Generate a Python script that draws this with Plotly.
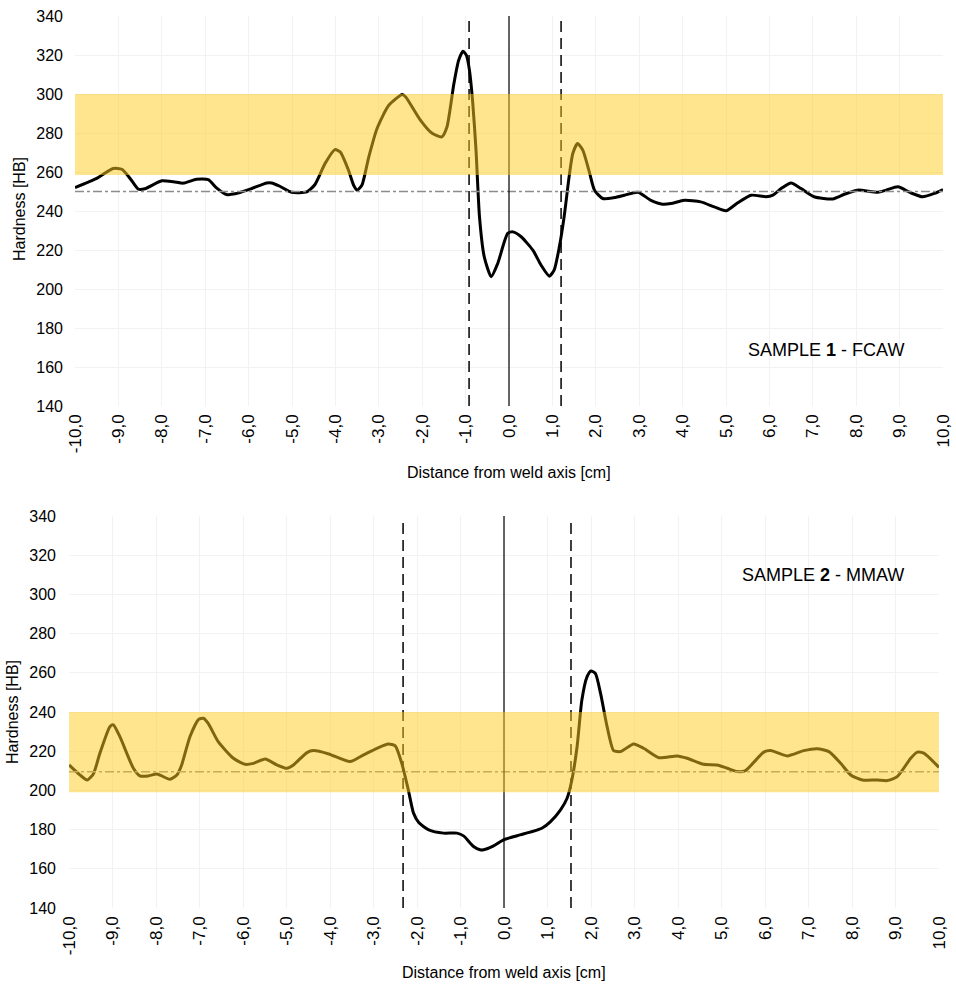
import plotly.graph_objects as go

# ---------------- data ----------------
s1_x = [-10.0, -9.5, -9.12, -8.92, -8.73, -8.54, -8.39, -8.0, -7.73, -7.5, -7.2, -6.93, -6.74, -6.51,
        -6.31, -5.97, -5.58, -5.47, -5.28, -5.01, -4.66, -4.47, -4.24, -4.01, -3.89, -3.70, -3.58,
        -3.5, -3.39, -3.23, -3.04, -2.77, -2.46, -2.38, -2.05, -1.78, -1.55, -1.43, -1.27, -1.16,
        -1.06, -0.98, -0.91, -0.84, -0.76, -0.68, -0.57, -0.41, -0.26, -0.03, 0.09, 0.28, 0.55,
        0.74, 0.93, 1.04, 1.16, 1.27, 1.39, 1.47, 1.58, 1.70, 1.85, 1.97, 2.16, 2.43, 2.66, 2.97,
        3.27, 3.54, 3.73, 4.04, 4.42, 4.73, 5.0, 5.27, 5.58, 5.92, 6.08, 6.27, 6.5, 6.73, 7.03,
        7.46, 7.73, 8.03, 8.5, 8.69, 8.96, 9.26, 9.53, 9.8, 10.0]
s1_y = [252.0, 256.7, 261.8, 261.4, 256.7, 251.2, 251.4, 255.5, 255.0, 254.3, 256.3, 256.1, 251.9, 248.5,
        248.8, 251.2, 254.4, 254.4, 252.7, 249.6, 249.8, 253.6, 264.3, 271.5, 270.3, 261.0, 253.2,
        250.7, 253.2, 267.8, 282.3, 294.2, 299.7, 298.5, 286.9, 280.0, 278.0, 283.1, 305.3, 317.3,
        321.9, 319.8, 312.0, 296.8, 271.2, 237.0, 216.5, 206.3, 213.1, 228.5, 229.3, 226.8, 219.9,
        212.2, 206.6, 209.7, 221.6, 237.0, 258.4, 269.5, 274.6, 271.2, 260.1, 250.7, 246.4, 246.9,
        248.1, 249.6, 245.5, 243.5, 243.8, 245.5, 244.7, 242.1, 240.1, 244.2, 248.1, 247.3, 248.1,
        251.5, 254.4, 251.5, 247.3, 246.2, 248.6, 250.7, 249.6, 250.7, 252.4, 249.3, 247.3, 249.0, 251.0]

s2_x = [-10.0, -9.75, -9.58, -9.44, -9.29, -9.06, -8.98, -8.83, -8.52, -8.37, -8.18, -7.98, -7.68, -7.52,
        -7.41, -7.22, -7.02, -6.91, -6.8, -6.57, -6.22, -5.95, -5.76, -5.49, -5.22, -4.99, -4.84,
        -4.53, -4.38, -4.03, -3.54, -3.23, -2.92, -2.66, -2.5, -2.35, -2.2, -2.08, -1.96, -1.73,
        -1.39, -1.08, -0.93, -0.70, -0.55, -0.47, -0.24, -0.01, 0.37, 0.6, 0.87, 1.07, 1.30, 1.45,
        1.56, 1.68, 1.79, 1.91, 2.0, 2.1, 2.22, 2.37, 2.52, 2.68, 2.98, 3.21, 3.56, 3.98, 4.21,
        4.59, 4.9, 5.13, 5.36, 5.55, 5.97, 6.13, 6.51, 6.89, 7.2, 7.47, 7.74, 7.97, 8.24, 8.58,
        8.81, 9.04, 9.35, 9.5, 9.65, 10.0]
s2_y = [213.0, 207.9, 205.3, 208.4, 218.9, 232.5, 233.4, 227.4, 211.3, 207.4, 207.4, 208.4, 205.7, 207.9,
        213.0, 227.4, 236.2, 236.8, 234.2, 224.9, 216.4, 213.3, 213.8, 216.0, 213.0, 211.3, 213.0,
        219.3, 220.3, 218.6, 214.7, 218.1, 221.5, 223.7, 222.7, 213.8, 200.3, 188.4, 183.6, 179.9,
        178.2, 178.2, 176.8, 171.4, 169.7, 169.7, 171.7, 174.8, 177.3, 178.7, 180.7, 184.1, 190.1, 196.0,
        205.3, 222.3, 246.1, 258.0, 260.9, 259.7, 249.5, 232.5, 220.3, 219.8, 223.7, 221.5, 216.7,
        217.6, 216.4, 213.3, 213.0, 211.3, 209.6, 210.1, 219.5, 220.3, 217.6, 220.3, 221.3, 219.8,
        213.8, 207.9, 205.3, 205.3, 205.0, 207.0, 216.4, 219.5, 219.0, 211.7]

x_ticks = [-10, -9, -8, -7, -6, -5, -4, -3, -2, -1, 0, 1, 2, 3, 4, 5, 6, 7, 8, 9, 10]
x_tick_labels = ["-10,0", "-9,0", "-8,0", "-7,0", "-6,0", "-5,0", "-4,0", "-3,0", "-2,0", "-1,0", "0,0",
                 "1,0", "2,0", "3,0", "4,0", "5,0", "6,0", "7,0", "8,0", "9,0", "10,0"]
y_ticks = [140, 160, 180, 200, 220, 240, 260, 280, 300, 320, 340]

s1_band = [258.5, 300]
s1_ref = 250
s1_zone = [-0.92, 1.2]
s2_band = [199, 240]
s2_ref = 209.5
s2_zone = [-2.32, 1.54]
weld_axis = 0

# ---------------- figure ----------------
fig = go.Figure()
FONT = "Liberation Sans, Arial, sans-serif"
W, H = 956, 985

fig.add_trace(go.Scatter(x=s1_x, y=s1_y, mode="lines", line=dict(color="black", width=3, shape="spline", smoothing=0.6),
                         xaxis="x", yaxis="y", showlegend=False))
fig.add_trace(go.Scatter(x=s2_x, y=s2_y, mode="lines", line=dict(color="black", width=3, shape="spline", smoothing=0.6),
                         xaxis="x2", yaxis="y2", showlegend=False))

x_common = dict(showline=False, zeroline=False, showgrid=True, gridcolor="#f2f2f2", gridwidth=1,
                ticks="", automargin=False, tickfont=dict(family=FONT, size=17, color="black"))
y_common = dict(showline=False, zeroline=False, showgrid=True, gridcolor="#f2f2f2", gridwidth=1,
                ticks="", automargin=False, tickfont=dict(family=FONT, size=16, color="black"))

fig.update_layout(
    width=W, height=H,
    margin=dict(l=0, r=0, t=0, b=0),
    plot_bgcolor="white", paper_bgcolor="white",
    font=dict(family=FONT, color="black"),
    xaxis=dict(domain=[75/W, 943/W], range=[-10, 10], tickvals=x_ticks, ticktext=x_tick_labels,
               tickangle=-90, anchor="y", ticklabelstandoff=4, **x_common),
    yaxis=dict(domain=[1-406/H, 1-16/H], range=[140, 340], tickvals=y_ticks, anchor="x",
               ticklabelstandoff=11, **y_common),
    xaxis2=dict(domain=[69/W, 939/W], range=[-10, 10], tickvals=x_ticks, ticktext=x_tick_labels,
                tickangle=-90, anchor="y2", ticklabelstandoff=4, **x_common),
    yaxis2=dict(domain=[1-908/H, 1-516/H], range=[140, 340], tickvals=y_ticks, anchor="x2",
                ticklabelstandoff=12, **y_common),
)

shapes = []
for xr, yr, band, ref, zone, y0top in [("x", "y", s1_band, s1_ref, s1_zone, 340),
                                     ("x2", "y2", s2_band, s2_ref, s2_zone, 338)]:
    shapes.append(dict(type="line", xref=f"{xr} domain", yref=yr, x0=0, x1=1, y0=ref, y1=ref,
                       line=dict(color="#8c8c8c", width=1.5, dash="dashdot"), layer="above"))
    shapes.append(dict(type="line", xref=xr, yref=yr, x0=weld_axis, x1=weld_axis, y0=140, y1=340,
                       line=dict(color="black", width=1.2), layer="above"))
    for zx in zone:
        shapes.append(dict(type="line", xref=xr, yref=yr, x0=zx, x1=zx, y0=140, y1=y0top,
                           line=dict(color="black", width=1.5, dash="11px,6px"), layer="above"))
    shapes.append(dict(type="rect", xref=f"{xr} domain", yref=yr, x0=0, x1=1, y0=band[0], y1=band[1],
                       fillcolor="rgb(255,205,30)", opacity=0.5, line=dict(width=0), layer="above"))
fig.update_layout(shapes=shapes)

def ann(text, x, y, size=16, angle=0):
    fig.add_annotation(text=text, xref="paper", yref="paper", x=x/W, y=1-y/H,
                       xanchor="center", yanchor="middle", showarrow=False, textangle=angle,
                       font=dict(family=FONT, size=size, color="black"))

ann("SAMPLE <b>1</b> - FCAW", 826, 350, 18)
ann("SAMPLE <b>2</b> - MMAW", 823, 575, 18)
ann("Distance from weld axis [cm]", 509, 472)
ann("Distance from weld axis [cm]", 504, 972)
ann("Hardness [HB]", 19, 209, 16, -90)
ann("Hardness [HB]", 12, 712, 16, -90)

fig.write_html("out.html", config={"displayModeBar": False},
               post_script="document.body.style.margin='0px';document.body.style.padding='0px';")
